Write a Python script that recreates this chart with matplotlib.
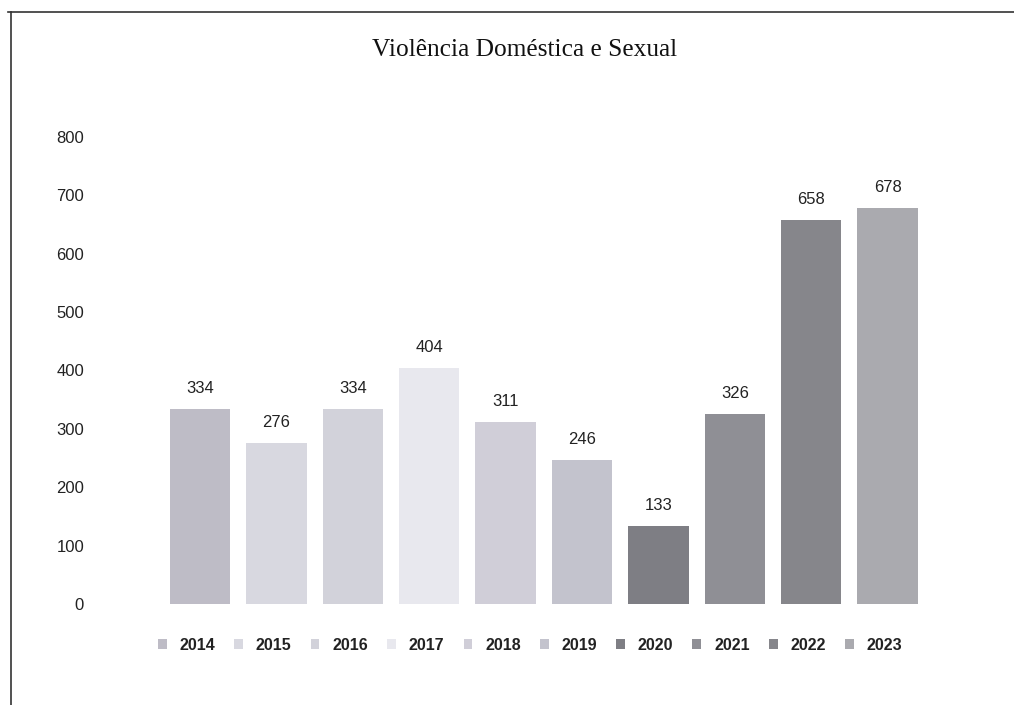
import matplotlib
matplotlib.use("Agg")
import matplotlib.pyplot as plt
from matplotlib.patches import Patch
from matplotlib.lines import Line2D

years = ["2014", "2015", "2016", "2017", "2018", "2019", "2020", "2021", "2022", "2023"]
values = [334, 276, 334, 404, 311, 246, 133, 326, 658, 678]
colors = ["#bebcc6", "#d8d8e0", "#d2d2da", "#e8e8ee", "#d0ced8", "#c3c3cd",
          "#7e7e84", "#8f8f95", "#86868b", "#aaaaaf"]
yticks = [0, 100, 200, 300, 400, 500, 600, 700, 800]
title = "Violência Doméstica e Sexual"

W, H = 1014, 705
fig = plt.figure(figsize=(W / 100, H / 100), dpi=100)
fig.patch.set_facecolor("white")

left, right = 161.8, 925.8
top, bottom = 137, 604
ax = fig.add_axes([left / W, (H - bottom) / H, (right - left) / W, (bottom - top) / H])

x = list(range(len(years)))
bars = ax.bar(x, values, width=0.79, color=colors, zorder=2)
for xi, v in zip(x, values):
    ax.annotate(str(v), (xi, v), xytext=(0, 9.5), textcoords="offset points",
                ha="center", va="bottom", fontsize=12, color="#222222",
                family="Liberation Sans")

ax.set_xlim(-0.5, len(years) - 0.5)
ax.set_ylim(0, 800)
ax.set_yticks(yticks)
ax.set_yticklabels([str(t) for t in yticks], fontsize=12, color="#222222",
                   family="Liberation Sans")
ax.tick_params(axis="y", length=0, pad=56)
ax.set_xticks([])
for s in ax.spines.values():
    s.set_visible(False)
ax.set_facecolor("none")

fig.text(525 / W, 1 - 50 / H, title, ha="center", va="center",
         fontsize=18.3, family="Liberation Serif", color="#111111")

handles = [Patch(facecolor=c, edgecolor="none") for c in colors]
leg = fig.legend(handles, years, loc="center", bbox_to_anchor=(530 / W, 1 - 645 / H),
                 ncol=10, frameon=False, handlelength=0.55, handleheight=0.6,
                 handletextpad=0.8, columnspacing=1.2,
                 prop={"family": "Liberation Sans", "weight": "bold", "size": 11.5})
for t in leg.get_texts():
    t.set_color("#222222")

# scanned page frame lines
fig.add_artist(Line2D([8 / W, 1], [1 - 12 / H, 1 - 12 / H], color="#333333", lw=1.2))
fig.add_artist(Line2D([11 / W, 11 / W], [0, 1 - 12 / H], color="#333333", lw=1.2))

fig.savefig("out.png", dpi=100, facecolor="white")
